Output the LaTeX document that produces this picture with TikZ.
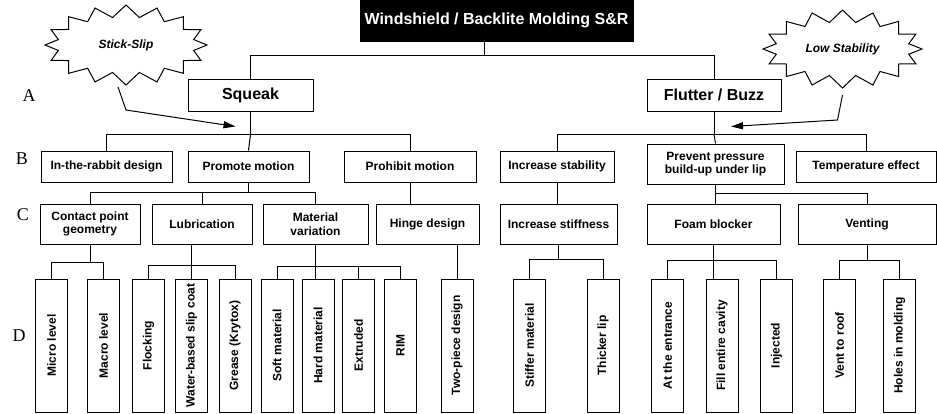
\documentclass[tikz,border=0pt]{standalone}
\usepackage{fontspec}
\setmainfont{Liberation Sans}
\newfontfamily\letterfont{Liberation Serif}
\usetikzlibrary{shapes.symbols,arrows.meta}
\begin{document}
\begin{tikzpicture}[x=1pt,y=-1pt,line width=1pt,
  box/.style={draw, inner sep=0pt, align=center, font=\bfseries\fontsize{12}{13.5}\selectfont},
  topbox/.style={box, font=\bfseries\fontsize{16}{18}\selectfont},
  leaf/.style={box, minimum width=32pt, minimum height=133pt},
  burst/.style={starburst, draw, starburst points=16, starburst point height=12pt,
    random starburst=0, inner sep=0pt, font=\bfseries\itshape\fontsize{12}{14}\selectfont},
  letter/.style={font=\letterfont\fontsize{18}{20}\selectfont},
  pointer/.style={-{Triangle[length=12pt,width=7pt]}}]
\useasboundingbox (0,0) rectangle (937,413);
\node[topbox, fill=black, text=white, minimum width=273pt, minimum height=41pt] (title) at (496.5,20.5){Windshield / Backlite Molding S\&R};
\node[topbox, minimum width=125pt, minimum height=32pt] (squeak) at (250.5,95){Squeak};
\node[topbox, minimum width=134pt, minimum height=32pt] (flutter) at (714,95){Flutter / Buzz};
\node[burst, minimum width=162pt, minimum height=80pt] (stick) at (126,45){Stick-Slip};
\node[burst, minimum width=159pt, minimum height=78pt] (lowstab) at (842.5,49){Low Stability};
\node[letter] (la) at (29,96){A};
\node[letter] (lb) at (22,159){B};
\node[letter] (lc) at (23,215){C};
\node[letter] (ld) at (19,336){D};
\node[box, minimum width=131pt, minimum height=31pt] (rabbit) at (106.5,166.5){In-the-rabbit design};
\node[box, minimum width=121pt, minimum height=31pt] (promote) at (248.5,166.5){Promote motion};
\node[box, minimum width=132pt, minimum height=31pt] (prohibit) at (410,166.5){Prohibit motion};
\node[box, minimum width=114pt, minimum height=31pt] (stab) at (557,166.5){Increase stability};
\node[box, minimum width=137pt, minimum height=40pt] (prevent) at (715.5,164){Prevent pressure\\build-up under lip};
\node[box, minimum width=140pt, minimum height=31pt] (temp) at (866,166.5){Temperature effect};
\node[box, minimum width=100pt, minimum height=40pt] (contact) at (90,224){Contact point\\geometry};
\node[box, minimum width=100pt, minimum height=40pt] (lubr) at (202,224){Lubrication};
\node[box, minimum width=105pt, minimum height=40pt] (material) at (315.5,224){Material\\variation};
\node[box, minimum width=103pt, minimum height=40pt] (hinge) at (427.5,224){Hinge design};
\node[box, minimum width=117pt, minimum height=40pt] (stiff) at (558.5,224){Increase stiffness};
\node[box, minimum width=133pt, minimum height=40pt] (foam) at (713.5,224){Foam blocker};
\node[box, minimum width=138pt, minimum height=40pt] (venting) at (867,224){Venting};
\node[leaf] (micro) at (51.5,345.5){\rotatebox{90}{Micro level}};
\node[leaf] (macro) at (103.5,345.5){\rotatebox{90}{Macro level}};
\node[leaf] (flock) at (148.5,345.5){\rotatebox{90}{Flocking}};
\node[leaf] (water) at (191.5,345.5){\rotatebox{90}{Water-based slip coat}};
\node[leaf] (grease) at (235,345.5){\rotatebox{90}{Grease (Krytox)}};
\node[leaf] (soft) at (277,345.5){\rotatebox{90}{Soft material}};
\node[leaf] (hard) at (318,345.5){\rotatebox{90}{Hard material}};
\node[leaf] (extruded) at (358.5,345.5){\rotatebox{90}{Extruded}};
\node[leaf] (rim) at (400.5,345.5){\rotatebox{90}{RIM}};
\node[leaf] (twopiece) at (457,345.5){\rotatebox{90}{Two-piece design}};
\node[leaf] (stiffer) at (529.5,345.5){\rotatebox{90}{Stiffer material}};
\node[leaf] (thicker) at (603,345.5){\rotatebox{90}{Thicker lip}};
\node[leaf] (entrance) at (667.5,345.5){\rotatebox{90}{At the entrance}};
\node[leaf] (fill) at (722,345.5){\rotatebox{90}{Fill entire cavity}};
\node[leaf] (injected) at (776.5,345.5){\rotatebox{90}{Injected}};
\node[leaf] (roof) at (839.5,345.5){\rotatebox{90}{Vent to roof}};
\node[leaf] (holes) at (899.5,345.5){\rotatebox{90}{Holes in molding}};
\draw[]([xshift=-12.5pt]title.south) -- ++(0,14) coordinate (tbus);
\draw[](squeak.north) |- (tbus) -| (flutter.north);
\draw[](squeak.south) -- ++(0,23) coordinate (sbus);
\draw[](rabbit.north) |- (sbus) -| (prohibit.north);
\draw[](sbus) -- (promote.north);
\draw[](flutter.south) -- ++(0,23) coordinate (fbus);
\draw[](stab.north) |- (fbus) -| (temp.north);
\draw[](fbus) -- (prevent.north);
\draw[](promote.south) -- ++(0,10) coordinate (pbus);
\draw[](contact.north) |- (pbus) -| (material.north);
\draw[](lubr.north) -- (lubr.north |- pbus);
\draw[](prohibit.south) -- (prohibit.south |- hinge.north);
\draw[](stab.south) -- (stab.south |- stiff.north);
\draw[](prevent.south) -- (prevent.south |- foam.north);
\path (prevent.south) ++(0,9) coordinate (vbus);
\draw[](vbus) -| (venting.north);
\draw[](contact.south) -- ++(0,18) coordinate (cbus);
\draw[](micro.north) |- (cbus) -| (macro.north);
\draw[](lubr.south -| water.north) -- (water.north);
\path (lubr.south) ++(0,21) coordinate (lbus);
\draw[](flock.north) |- (lbus) -| (grease.north);
\draw[](material.south) -- ++(0,22) coordinate (mbus) -- (mbus |- hard.north);
\draw[](soft.north) |- (mbus) -| (rim.north);
\draw[](extruded.north) -- (extruded.north |- mbus);
\draw[](twopiece.north |- hinge.south) -- (twopiece.north);
\draw[](stiff.south) -- ++(0,15) coordinate (stbus);
\draw[](stiffer.north) |- (stbus) -| (thicker.north);
\draw[](foam.south) -- ++(0,16) coordinate (fobus);
\draw[](entrance.north) |- (fobus) -| (injected.north);
\draw[](fobus) -- (fobus |- fill.north);
\draw[](venting.south) -- ++(0,16) coordinate (vebus);
\draw[](roof.north) |- (vebus) -| (holes.north);
\draw[pointer]([shift={(-8,42)}]stick.center) -- ++(8,23) -- ([shift={(-15,15)}]squeak.south);
\draw[pointer]([shift={(0,46)}]lowstab.center) -- ++(-5,25) -- ([shift={(17,15)}]flutter.south);
\end{tikzpicture}
\end{document}
